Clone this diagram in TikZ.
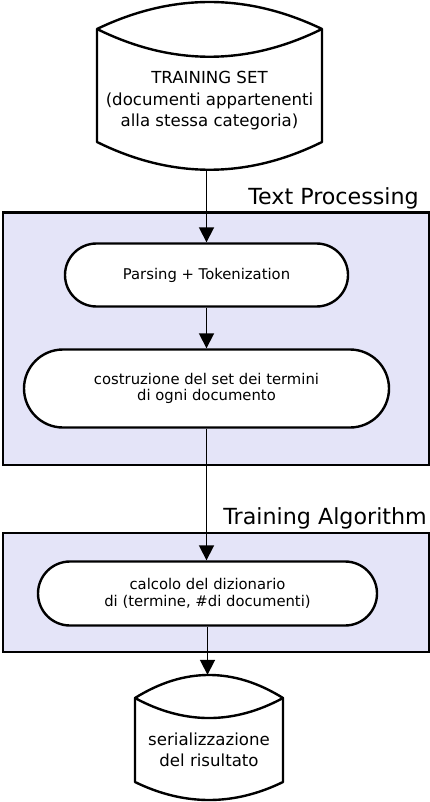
\documentclass[tikz,border=0pt]{standalone}
\usepackage{fontspec}
\setmainfont{DejaVu Sans}
\usetikzlibrary{arrows.meta,shapes.misc}
\definecolor{groupfill}{RGB}{228,228,248}
\begin{document}
\begin{tikzpicture}[x=1pt,y=-1pt,
  shapeline/.style={line width=2.4pt, line join=round},
  groupbox/.style={draw, line width=2.4pt, fill=groupfill, inner sep=0pt, anchor=north west},
  proc/.style={rounded rectangle, draw, line width=2.4pt, fill=white, align=center, inner sep=0pt, font=\fontsize{14.8}{16.5}\selectfont},
  dbtext/.style={align=center, inner sep=0pt, font=\fontsize{16.6}{21.5}\selectfont},
  dbbox/.style={inner sep=0pt, draw=none},
  grouplabel/.style={anchor=base east, inner sep=0pt, font=\fontsize{22.2}{26}\selectfont},
  flow/.style={line width=1.8pt, -{Triangle[length=15pt,width=15pt]}}
]
\useasboundingbox (0,0) rectangle (430,802);

% group boxes
\node[groupbox, minimum width=426pt, minimum height=252pt] (tpbox) at (1.5,211.5) {};
\node[grouplabel] (tplabel) at (419,205) {Text Processing};
\node[groupbox, minimum width=426pt, minimum height=119pt] (tabox) at (1.5,532) {};
\node[grouplabel] (talabel) at (427,524) {Training Algorithm};

% top cylinder
\node[dbbox, minimum width=225pt, minimum height=168pt] (db1) at (209.5,86) {};
\draw[shapeline, fill=white] (97,29) .. controls (172,-7) and (247,-7) .. (322,29)
  -- (322,142) .. controls (247,179) and (172,179) .. (97,142) -- cycle;
\draw[shapeline] (97,29) .. controls (172,66) and (247,66) .. (322,29);
\node[dbtext] (db1text) at (209.5,101) {TRAINING SET\\(documenti appartenenti\\alla stessa categoria)};

% process nodes
\node[proc, minimum width=283pt, minimum height=63pt] (parse) at (206.5,275) {\raisebox{-3pt}{Parsing + Tokenization}};
\node[proc, minimum width=365pt, minimum height=78pt] (cost) at (206.5,388.5) {costruzione del set dei termini\\di ogni documento};
\node[proc, minimum width=339pt, minimum height=64pt] (calc) at (207.5,593.5) {calcolo del dizionario\\di (termine, \#di documenti)};

% bottom cylinder
\node[dbbox, minimum width=148pt, minimum height=125pt] (db2) at (209,737.5) {};
\draw[shapeline, fill=white] (135,698) .. controls (184.3,667.3) and (233.7,667.3) .. (283,698)
  -- (283,782) .. controls (233.7,806) and (184.3,806) .. (135,782) -- cycle;
\draw[shapeline] (135,698) .. controls (184.3,724.7) and (233.7,724.7) .. (283,698);
\node[dbtext] (db2text) at (209,750) {serializzazione\\del risultato};

% connectors
\draw[flow] (parse.north |- db1.south) -- (parse.north);
\draw[flow] (parse.south) -- (cost.north);
\draw[flow] (cost.south) -- (cost.south |- calc.north);
\draw[flow] (calc.south) -- (calc.south |- db2.north);
\end{tikzpicture}
\end{document}
